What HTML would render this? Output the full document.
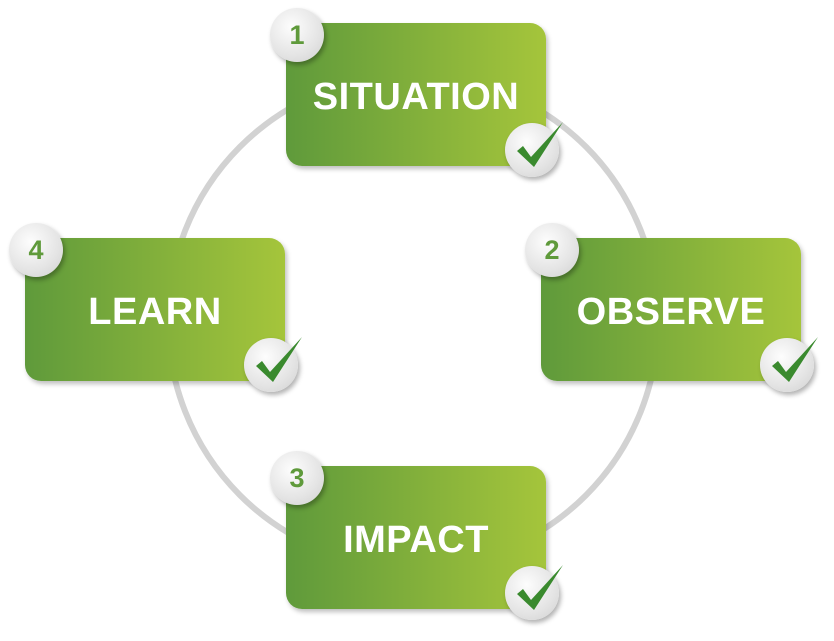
<!DOCTYPE html>
<html><head><style>
body{margin:0;width:834px;height:641px;background:#fff;position:relative;overflow:hidden;font-family:"Liberation Sans",sans-serif}
.box{position:absolute;width:260px;height:143px;border-radius:16px;background:linear-gradient(90deg,#5f9a3b,#a5c53b);box-shadow:2px 3px 5px rgba(0,0,0,.25);color:#fff;font-weight:bold;font-size:38px;display:flex;align-items:center;justify-content:center;letter-spacing:0.5px;box-sizing:border-box;padding-top:6px}
.num,.chk{position:absolute;width:54px;height:54px;border-radius:50%;background:radial-gradient(circle at 40% 35%,#fdfdfd,#e4e4e4 60%,#cfcfcf);box-shadow:2px 3px 5px rgba(0,0,0,.3);display:flex;align-items:center;justify-content:center}
.num{color:#5f9a3b;font-weight:bold;font-size:27px}
.chk svg{position:absolute;left:4px;top:-6px;overflow:visible}
</style></head><body>
<svg width="834" height="641" style="position:absolute;left:0;top:0"><ellipse cx="413" cy="321" rx="245" ry="246" fill="none" stroke="#d2d2d2" stroke-width="6"/></svg>
<div class="box" style="left:286px;top:23px">SITUATION</div>
<div class="box" style="left:541px;top:238px">OBSERVE</div>
<div class="box" style="left:25px;top:238px">LEARN</div>
<div class="box" style="left:286px;top:466px">IMPACT</div>
<div class="num" style="left:270px;top:8px">1</div>
<div class="num" style="left:525px;top:223px">2</div>
<div class="num" style="left:9px;top:223px">4</div>
<div class="num" style="left:270px;top:451px">3</div>
<div class="chk" style="left:505px;top:123px"><svg width="58" height="58"><path d="M8 34 L14 29 L22 40 L54 5 L25 50 Z" fill="#3a8a2e"/></svg></div>
<div class="chk" style="left:760px;top:338px"><svg width="58" height="58"><path d="M8 34 L14 29 L22 40 L54 5 L25 50 Z" fill="#3a8a2e"/></svg></div>
<div class="chk" style="left:244px;top:338px"><svg width="58" height="58"><path d="M8 34 L14 29 L22 40 L54 5 L25 50 Z" fill="#3a8a2e"/></svg></div>
<div class="chk" style="left:505px;top:566px"><svg width="58" height="58"><path d="M8 34 L14 29 L22 40 L54 5 L25 50 Z" fill="#3a8a2e"/></svg></div>
</body></html>
